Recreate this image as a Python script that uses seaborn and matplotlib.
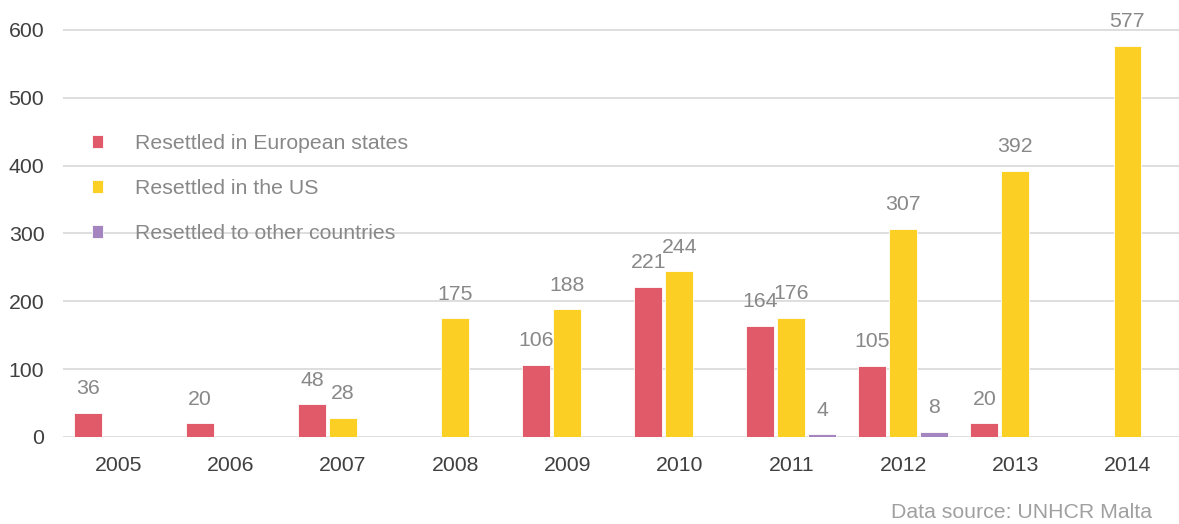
import numpy as np
import pandas as pd
import matplotlib
matplotlib.use("Agg")
import matplotlib.pyplot as plt
import seaborn as sns

# Resettlement of refugees from Malta, by destination
years = ["2005", "2006", "2007", "2008", "2009", "2010", "2011", "2012", "2013", "2014"]
european = [36, 20, 48, None, 106, 221, 164, 105, 20, None]
us = [None, None, 28, 175, 188, 244, 176, 307, 392, 577]
other = [None, None, None, None, None, None, 4, 8, None, None]

series_names = [
    "Resettled in European states",
    "Resettled in the US",
    "Resettled to other countries",
]
series_colors = ["#E05A6A", "#FBCF24", "#A485C0"]
y_ticks = [0, 100, 200, 300, 400, 500, 600]
source_note = "Data source: UNHCR Malta"

rows = []
for name, vals in zip(series_names, [european, us, other]):
    for yr, v in zip(years, vals):
        rows.append({"year": yr, "series": name, "value": np.nan if v is None else v})
df = pd.DataFrame(rows).dropna()

sns.set_theme(style="white")
plt.rcParams["font.family"] = ["Liberation Sans", "DejaVu Sans"]

FS = 15.3
W, H, DPI = 1179, 524, 100
fig = plt.figure(figsize=(W / DPI, H / DPI), dpi=DPI)
ax = fig.add_axes([63 / W, (H - 437) / H, (W - 63) / W, 640 * 0.6785 / H])

sns.barplot(
    data=df, x="year", y="value", hue="series",
    order=years, hue_order=series_names,
    palette=series_colors, saturation=1, width=0.83, gap=0.1,
    edgecolor="white", linewidth=0.6, errorbar=None, ax=ax,
)

ax.set_xlim(-0.5, 9.46)
ax.set_ylim(0, 640)
ax.set_yticks(y_ticks)
ax.set_xlabel("")
ax.set_ylabel("")
for s in ax.spines.values():
    s.set_visible(False)
ax.yaxis.grid(True, color="#dedede", linewidth=1.4)
ax.set_axisbelow(True)
ax.tick_params(axis="both", length=0, labelsize=FS, labelcolor="#404040")
ax.tick_params(axis="y", pad=13.5)
ax.tick_params(axis="x", pad=13.5)

for cont in ax.containers:
    ax.bar_label(cont, fmt="%g", padding=10.5, fontsize=FS, color="#888888")

handles, labels = ax.get_legend_handles_labels()
leg = ax.legend(
    handles, labels, loc="upper left",
    bbox_to_anchor=((92 - 63) / (W - 63), (437 - 134) / (640 * 0.6785)),
    frameon=False, fontsize=FS, handlelength=0.52, handleheight=0.52,
    handletextpad=1.5, labelspacing=1.22, borderpad=0, borderaxespad=0,
)
for t in leg.get_texts():
    t.set_color("#888888")

fig.text(1152 / W, 1 - 512 / H, source_note, ha="right", va="center",
         fontsize=FS, color="#a0a0a0")

fig.savefig("out.png", dpi=DPI)
